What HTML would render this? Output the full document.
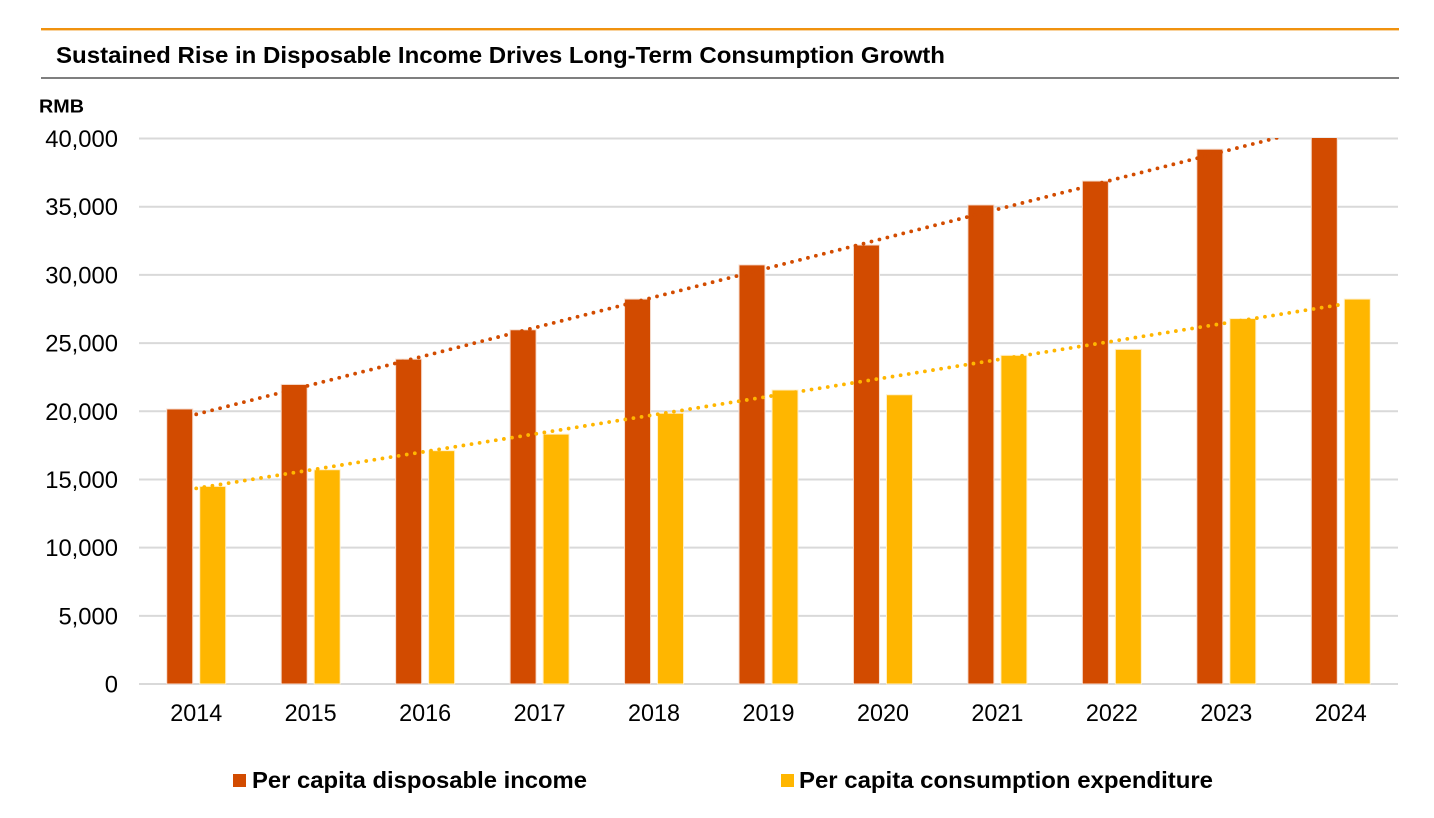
<!DOCTYPE html>
<html lang="en">
<head>
<meta charset="utf-8">
<title>Sustained Rise in Disposable Income Drives Long-Term Consumption Growth</title>
<style>
html,body{margin:0;padding:0;background:#fff;}
svg{display:block;font-family:"Liberation Sans",Arial,sans-serif;}
</style>
</head>
<body>
<svg id="chart" width="1434" height="818" viewBox="0 0 1434 818" xmlns="http://www.w3.org/2000/svg">
  <defs>
    <clipPath id="plot-clip"><rect x="139" y="138" width="1259" height="547"/></clipPath>
  </defs>
  <rect x="41" y="28" width="1358" height="2.4" fill="#f0920f"/>
  <text x="56" y="63" font-size="23.2" font-weight="700" fill="#000" textLength="889" lengthAdjust="spacingAndGlyphs">Sustained Rise in Disposable Income Drives Long-Term Consumption Growth</text>
  <rect x="41" y="77" width="1358" height="2" fill="#7f7f7f"/>
  <text x="39" y="112.6" font-size="18.6" font-weight="700" fill="#000" textLength="45" lengthAdjust="spacingAndGlyphs">RMB</text>
  <g id="grid"></g>
  <g id="yticks"></g>
  <g id="bars" clip-path="url(#plot-clip)"></g>
  <g id="trends" clip-path="url(#plot-clip)"></g>
  <g id="xticks"></g>
  <g>
    <g>
      <rect x="233" y="774" width="13" height="13" fill="#d24b00"/>
      <text x="252" y="788" font-size="23" font-weight="700" fill="#000" textLength="335" lengthAdjust="spacingAndGlyphs">Per capita disposable income</text>
    </g>
    <g>
      <rect x="781" y="774" width="13" height="13" fill="#ffb600"/>
      <text x="799" y="788" font-size="23" font-weight="700" fill="#000" textLength="414" lengthAdjust="spacingAndGlyphs">Per capita consumption expenditure</text>
    </g>
  </g>
</svg>
<script>
const years = ['2014','2015','2016','2017','2018','2019','2020','2021','2022','2023','2024'];
const incomeValues = [20167,21966,23821,25974,28228,30733,32189,35128,36883,39218,41314];
const consumptionValues = [14491,15712,17111,18322,19853,21559,21210,24100,24538,26796,28227];
const yTickValues = [0,5000,10000,15000,20000,25000,30000,35000,40000];

const NS = 'http://www.w3.org/2000/svg';
const plotLeft = 139, plotRight = 1398, plotBottom = 684, plotTop = 138.5, yMax = 40000;
const step = (plotRight - plotLeft) / years.length;
const barW = 26, barOffset = 16.5;
function xCenter(i){ return plotLeft + step * (i + 0.5); }
function yScale(v){ return plotBottom - (v / yMax) * (plotBottom - plotTop); }
function make(tag, attrs, parent){
  const el = document.createElementNS(NS, tag);
  for (const k in attrs) el.setAttribute(k, attrs[k]);
  parent.appendChild(el);
  return el;
}
function fit(values){
  const n = values.length;
  const mx = (n - 1) / 2;
  const my = values.reduce((a, b) => a + b, 0) / n;
  let num = 0, den = 0;
  values.forEach((v, i) => { num += (i - mx) * (v - my); den += (i - mx) * (i - mx); });
  const slope = num / den;
  return i => my + slope * (i - mx);
}

const gridG = document.getElementById('grid');
const yG = document.getElementById('yticks');
yTickValues.forEach(v => {
  const line = make('line', {x1: plotLeft, x2: plotRight, y1: yScale(v), y2: yScale(v), stroke: '#d9d9d9', 'stroke-width': 2}, gridG);
  
  
  const t = make('text', {x: 118, y: yScale(v) + 8.5, 'text-anchor': 'end', 'font-size': 23.8, fill: '#000'}, yG);
  t.textContent = v.toLocaleString('en-US');
  
  
});

const barG = document.getElementById('bars');
const xG = document.getElementById('xticks');
years.forEach((yr, i) => {
  const c = xCenter(i);
  const yA = yScale(incomeValues[i]);
  const a = make('rect', {x: c - barOffset - barW / 2, y: yA, width: barW, height: plotBottom - yA, fill: '#d24b00', stroke: '#f6dfd2', 'stroke-width': 1}, barG);
  
  
  const yB = yScale(consumptionValues[i]);
  const b = make('rect', {x: c + barOffset - barW / 2, y: yB, width: barW, height: plotBottom - yB, fill: '#ffb600', stroke: '#fff0cc', 'stroke-width': 1}, barG);
  
  
  const t = make('text', {x: c, y: 721, 'text-anchor': 'middle', 'font-size': 24.4, fill: '#000', textLength: 52, lengthAdjust: 'spacingAndGlyphs'}, xG);
  t.textContent = yr;
  
  
});

const trendG = document.getElementById('trends');
[[incomeValues, '#d24b00', 'trendline-income'], [consumptionValues, '#ffb600', 'trendline-consumption']].forEach(s => {
  const f = fit(s[0]);
  const last = s[0].length - 1;
  const line = make('line', {x1: xCenter(0), y1: yScale(f(0)), x2: xCenter(last), y2: yScale(f(last)), stroke: s[1], 'stroke-width': 3.8, 'stroke-linecap': 'round', 'stroke-dasharray': '0 8.2'}, trendG);
  
  
});
</script>
</body>
</html>
